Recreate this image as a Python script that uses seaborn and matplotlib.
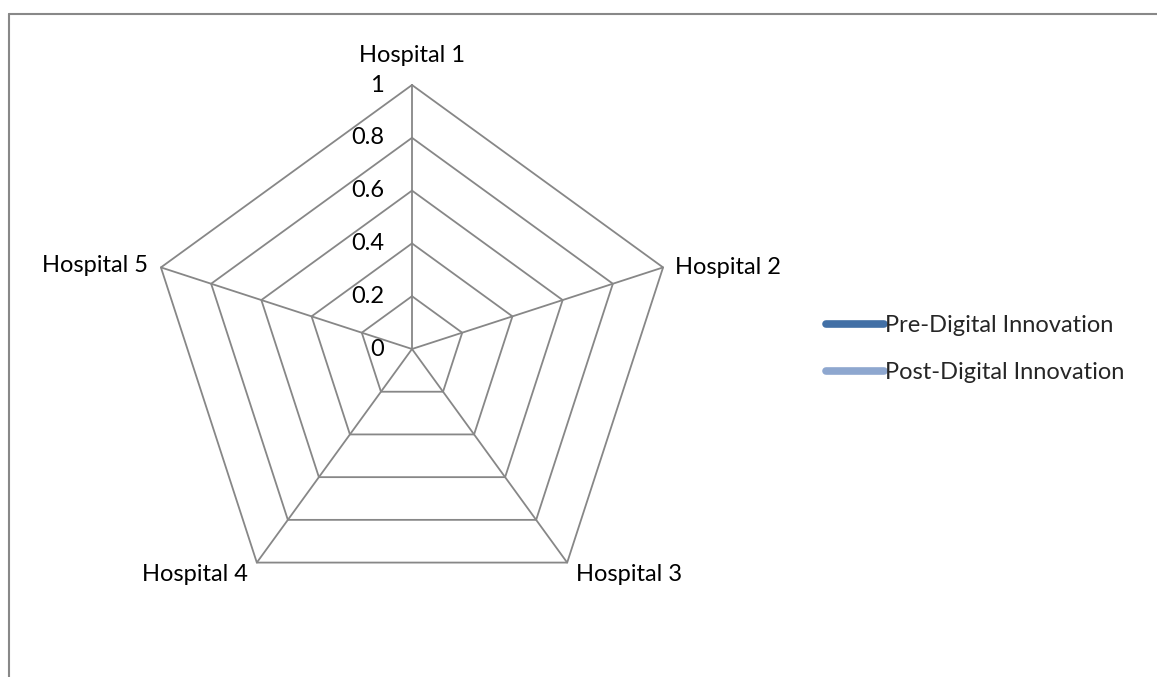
import numpy as np
import pandas as pd
import matplotlib
matplotlib.use("Agg")
import matplotlib.pyplot as plt
import seaborn as sns

categories = ["Hospital 1", "Hospital 2", "Hospital 3", "Hospital 4", "Hospital 5"]
pre_values = [np.nan, np.nan, np.nan, np.nan, np.nan]
post_values = [np.nan, np.nan, np.nan, np.nan, np.nan]
series_names = ["Pre-Digital Innovation", "Post-Digital Innovation"]
series_colors = ["#4270a6", "#8ea7cf"]
rticks = [0, 0.2, 0.4, 0.6, 0.8, 1]
rtick_labels = ["0", "0.2", "0.4", "0.6", "0.8", "1"]

sns.set_theme(style="white")
plt.rcParams['font.family'] = ['Lato', 'DejaVu Sans']

W, H = 1157, 677
fig = plt.figure(figsize=(W / 100, H / 100), dpi=100)
cx, cy, R = 412, 349, 264
half = 300
ax = fig.add_axes([(cx - half) / W, (H - cy - half) / H, 2 * half / W, 2 * half / H])
lim = half / R
ax.set_xlim(-lim, lim)
ax.set_ylim(-lim, lim)
ax.set_axis_off()

n = len(categories)
angles = np.pi / 2 - 2 * np.pi * np.arange(n) / n
grid_col = "#878787"

# polygon grid rings
for r in rticks[1:]:
    xs = list(r * np.cos(angles)) + [r * np.cos(angles[0])]
    ys = list(r * np.sin(angles)) + [r * np.sin(angles[0])]
    sns.lineplot(x=xs, y=ys, sort=False, estimator=None, ax=ax, color=grid_col, lw=1.3)
# spokes
for a in angles:
    ax.plot([0, np.cos(a)], [0, np.sin(a)], color=grid_col, lw=1.3)

# series (closed)
for vals, name, col in zip([pre_values, post_values], series_names, series_colors):
    v = np.array(vals + [vals[0]], dtype=float)
    a = np.append(angles, angles[0])
    ax.plot(v * np.cos(a), v * np.sin(a), color=col, lw=5.5, solid_capstyle="round", label=name)

fs = 17
# radial tick labels
for r, lab in zip(rticks, rtick_labels):
    ax.text(-28 / R, r, lab, ha="right", va="center", fontsize=fs, color="#000000")

# category labels
offsets = [
    (0, 30 / R, "center", "center"),
    (12 / R, 0, "left", "center"),
    (9 / R, -12 / R, "left", "center"),
    (-9 / R, -12 / R, "right", "center"),
    (-13 / R, 2 / R, "right", "center"),
]
for cat, a, (dx, dy, ha, va) in zip(categories, angles, offsets):
    ax.text(np.cos(a) + dx, np.sin(a) + dy, cat, ha=ha, va=va, fontsize=fs, color="#000000")

leg = ax.legend(loc="center left", bbox_to_anchor=(826 / W, (H - 349) / H),
                bbox_transform=fig.transFigure, frameon=False, fontsize=fs,
                handlelength=2.45, handletextpad=0.05, labelspacing=1.12, borderaxespad=0,
                borderpad=0)

# chart border (left and top visible)
fig.add_artist(plt.Line2D([8.5 / W, 8.5 / W], [0, (H - 13.5) / H], color="#888888", lw=1.5,
                          transform=fig.transFigure))
fig.add_artist(plt.Line2D([8.5 / W, 1], [(H - 13.5) / H, (H - 13.5) / H], color="#888888", lw=1.5,
                          transform=fig.transFigure))

fig.savefig("out.png", dpi=100, facecolor="white")
